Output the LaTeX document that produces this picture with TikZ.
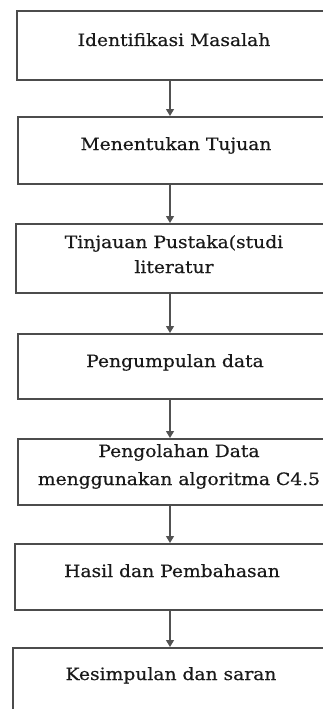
\documentclass[tikz,border=0pt]{standalone}
\usepackage{fontspec}
\setmainfont{DejaVu Serif}[FakeStretch=1.1, FakeBold=0.5]
\usetikzlibrary{arrows.meta}

\tikzset{
  stage/.style={draw=black!70, line width=1.7pt, rectangle, anchor=north west,
    inner sep=0pt, minimum width=330pt-#1},
  caption/.style={anchor=base, inner sep=0pt, font=\fontsize{17}{25}\selectfont,
    text=black!90, align=center},
  flow/.style={draw=black!68, line width=1.1pt,
    -{Triangle[width=8pt,length=7pt]}},
}

\begin{document}
\begin{tikzpicture}[x=1pt,y=-1pt]
  \useasboundingbox (0,0) rectangle (323,709);
  \clip (0,0) rectangle (323,709);

  % stage boxes (they run off the right and bottom edge)
  \node[stage=16, minimum height=69pt] (b1) at (16,10)  {};
  \node[stage=17, minimum height=67pt] (b2) at (17,116) {};
  \node[stage=15, minimum height=69pt] (b3) at (15,223) {};
  \node[stage=17, minimum height=65pt] (b4) at (17,333) {};
  \node[stage=17, minimum height=66pt] (b5) at (17,438) {};
  \node[stage=14, minimum height=66pt] (b6) at (14,543) {};
  \node[stage=12, minimum height=80pt] (b7) at (12,647) {};

  % labels (base anchor sits on the last line)
  \node[caption] (t1) at (174,46)  {Identifikasi Masalah};
  \node[caption] (t2) at (176,150) {Menentukan Tujuan};
  \node[caption] (t3) at (174,273) {Tinjauan Pustaka(studi\\literatur};
  \node[caption] (t4) at (175,367) {Pengumpulan data};
  \node[caption, font=\fontsize{17}{28}\selectfont] (t5) at (179,485)
    {Pengolahan Data\\menggunakan algoritma C4.5};
  \node[caption] (t6) at (172,577) {Hasil dan Pembahasan};
  \node[caption] (t7) at (171,680) {Kesimpulan dan saran};

  % connectors
  \coordinate (ax) at (170,0);
  \foreach \a/\b in {b1/b2,b2/b3,b3/b4,b4/b5,b5/b6,b6/b7}
    \draw[flow] (\a.south -| ax) -- (\b.north -| ax);
\end{tikzpicture}
\end{document}
